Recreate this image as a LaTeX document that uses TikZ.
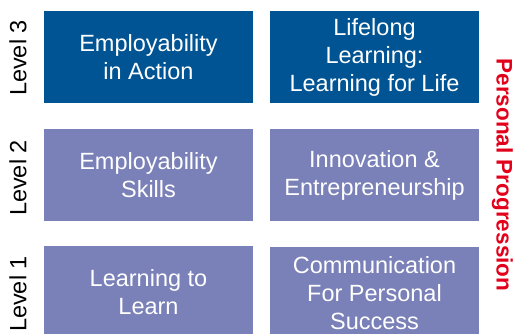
\documentclass[tikz,border=0pt]{standalone}
\usepackage{fontspec}
\setmainfont{Liberation Sans}
\definecolor{lvldark}{RGB}{0,84,147}
\definecolor{lvllight}{RGB}{122,128,184}
\definecolor{progred}{RGB}{226,0,26}
\begin{document}
\begin{tikzpicture}[x=1pt,y=-1pt]
            \tikzstyle{every node}+=[inner sep=0pt, font=\fontsize{23.5}{28}\selectfont]
            \tikzstyle{box}=[minimum width=209pt, minimum height=92pt, text=white, align=center]
            \tikzstyle{level}=[rotate=90]
                \useasboundingbox (0,0) rectangle (514,333);
                % level 3
                \node [box, fill=lvldark] (action) at (148.5,57) {Employability\\in Action};
                \node [box, fill=lvldark] (lifelong) at (374.5,57) {Lifelong\\Learning:\\Learning for Life};
                \node [level] (lthree) at (18,58) {Level 3};
                % level 2
                \node [box, fill=lvllight] (skills) at (148.5,175) {Employability\\Skills};
                \node [box, fill=lvllight] (innov) at (374.5,175) {Innovation \&\\Entrepreneurship};
                \node [level] (ltwo) at (18,178) {Level 2};
                % level 1
                \node [box, fill=lvllight] (learn) at (148.5,292) {Learning to\\Learn};
                \node [box, fill=lvllight] (comm) at (374.5,293) {Communication\\For Personal\\Success};
                \node [level] (lone) at (18,294) {Level 1};
                % side label
                \node [rotate=-90, text=progred, font=\fontsize{22.5}{28}\selectfont\bfseries] (prog) at (502.5,175) {Personal Progression};
\end{tikzpicture}
\end{document}
